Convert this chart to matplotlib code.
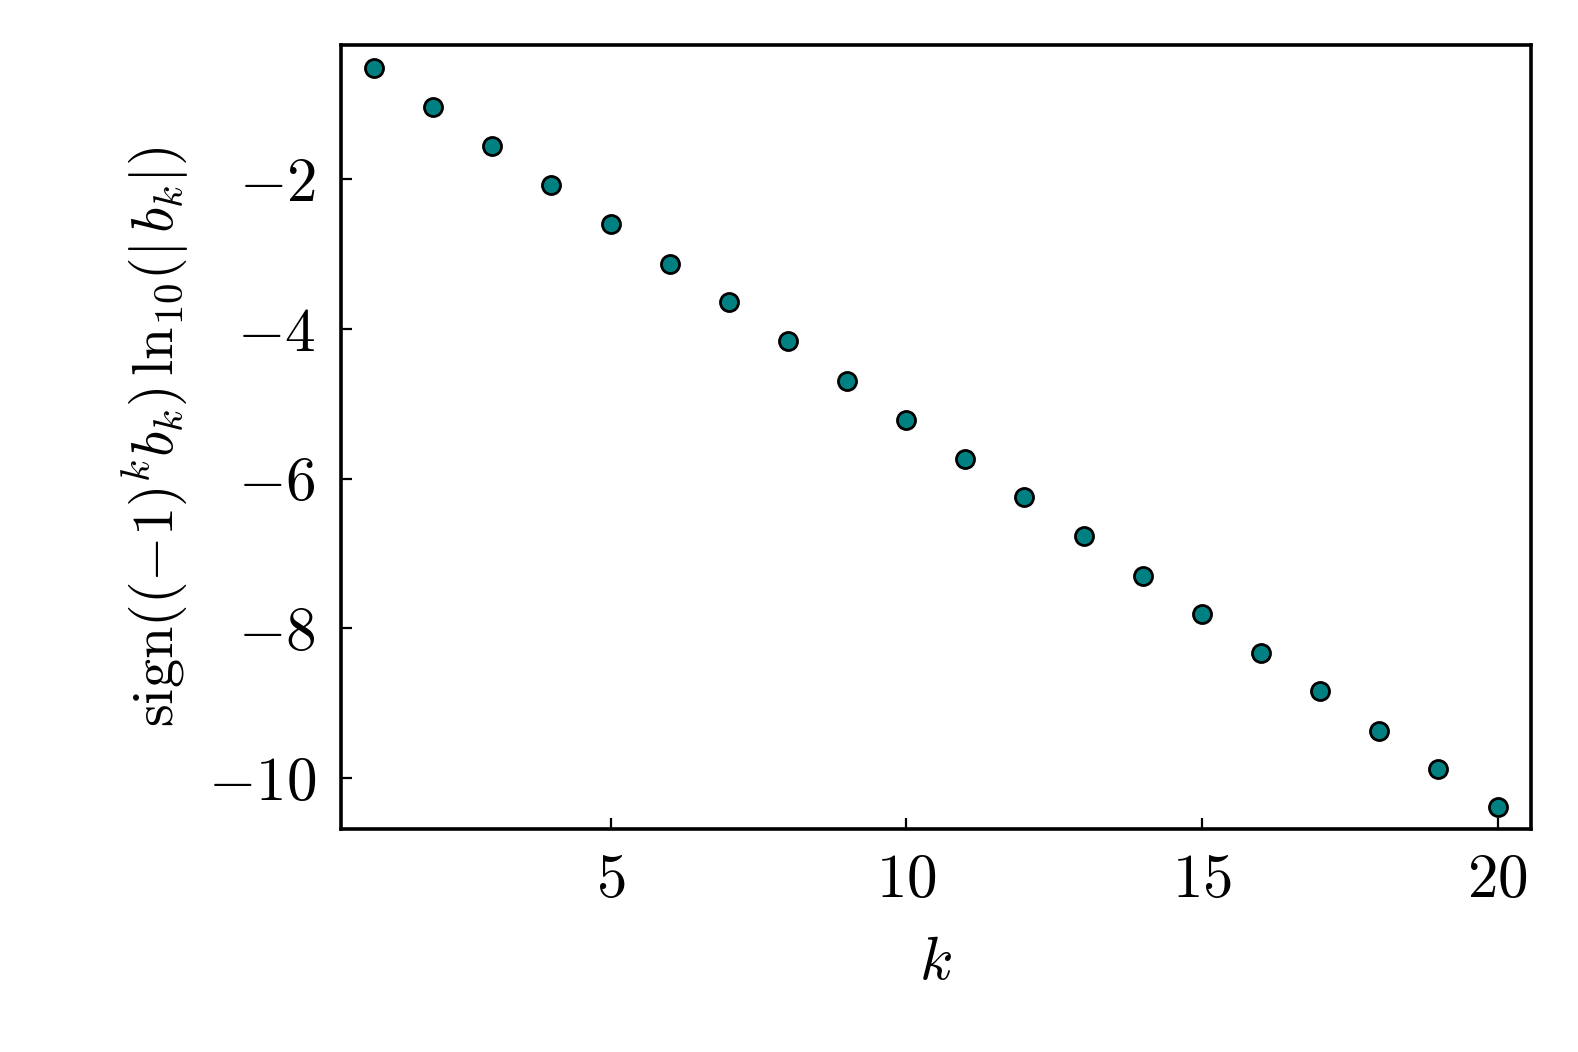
import matplotlib
matplotlib.use("Agg")
import matplotlib.pyplot as plt

plt.rcParams['mathtext.fontset'] = 'cm'
plt.rcParams['font.family'] = 'serif'
plt.rcParams['font.serif'] = ['cmr10', 'DejaVu Serif']
plt.rcParams['axes.formatter.use_mathtext'] = True

k = list(range(1, 21))
y = [-0.51, -1.03, -1.56, -2.08, -2.60, -3.13, -3.64, -4.16, -4.69, -5.21,
     -5.74, -6.25, -6.77, -7.30, -7.81, -8.33, -8.84, -9.37, -9.88, -10.39]
xticks = [5, 10, 15, 20]
yticks = [-2, -4, -6, -8, -10]
xticklabels = [r'$5$', r'$10$', r'$15$', r'$20$']
yticklabels = [r'$-2$', r'$-4$', r'$-6$', r'$-8$', r'$-10$']

fig = plt.figure(figsize=(15.78, 10.52), dpi=100)
ax = fig.add_axes([0.216, 0.212, 0.754, 0.745])
ax.plot(k, y, linestyle='none', marker='o', markersize=13,
        markerfacecolor='#008080', markeredgecolor='black', markeredgewidth=2.0)
ax.set_xlim(0.44, 20.56)
ax.set_ylim(-10.68, -0.21)
ax.set_xticks(xticks)
ax.set_xticklabels(xticklabels)
ax.set_yticks(yticks)
ax.set_yticklabels(yticklabels)
ax.tick_params(direction='in', length=8, width=1.6, labelsize=44, pad=18)
for s in ax.spines.values():
    s.set_linewidth(2.6)
ax.set_xlabel(r'$k$', fontsize=44, labelpad=19)
ax.set_ylabel(r'$\mathrm{sign}((-1)^k b_k)\,\mathrm{ln}_{10}(|\,b_k|)$', fontsize=42, labelpad=12)
fig.savefig('out.png', dpi=100)
